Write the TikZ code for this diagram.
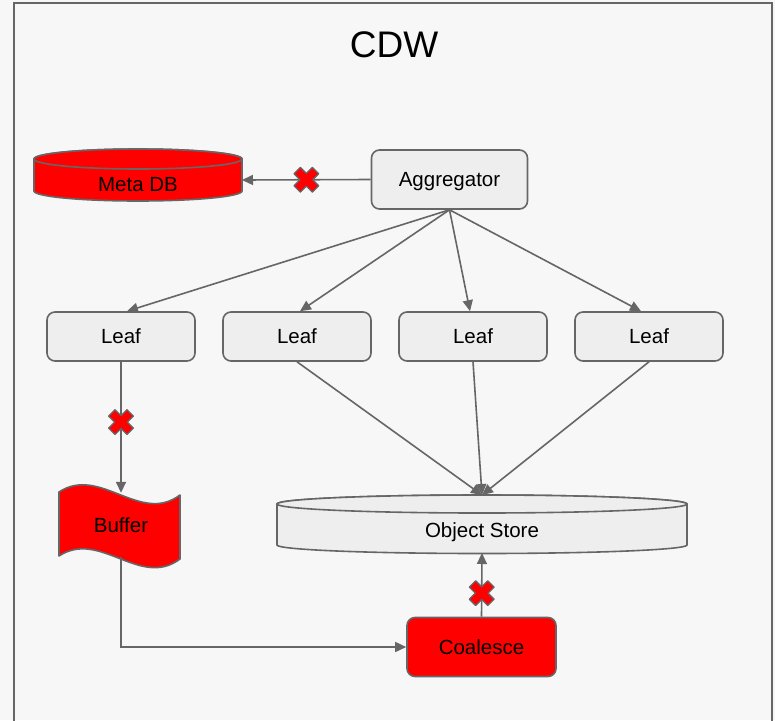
\documentclass[tikz,border=0pt]{standalone}
\usepackage{fontspec}
\setmainfont{Liberation Sans}
\usetikzlibrary{arrows.meta,calc}
\definecolor{bg}{HTML}{F7F7F7}
\definecolor{edge}{HTML}{666666}
\definecolor{boxfill}{HTML}{EEEEEE}
\definecolor{alarm}{HTML}{FF0000}
\begin{document}
\begin{tikzpicture}[x=1pt,y=-1pt,
  txt/.style={font=\fontsize{20.5}{23}\selectfont, text height=14.5pt, text depth=0pt, inner sep=0pt},
  box/.style={txt, draw=edge, line width=1.6pt, rounded corners=8pt, fill=boxfill},
  redbox/.style={box, fill=alarm},
  area/.style={inner sep=0pt, outer sep=0pt},
  conn/.style={draw=edge, line width=1.6pt, -{Triangle[length=11pt,width=10pt]}},
  shapeline/.style={draw=edge, line width=1.6pt},
  failmark/.pic={\filldraw[fill=alarm, draw=edge, line width=1.3pt, rotate=45, line join=round]
    (4.5,4.5) -- (13,4.5) -- (13,-4.5) -- (4.5,-4.5) -- (4.5,-13) -- (-4.5,-13) -- (-4.5,-4.5)
    -- (-13,-4.5) -- (-13,4.5) -- (-4.5,4.5) -- (-4.5,13) -- (4.5,13) -- cycle;}
]
% canvas and outer frame
\useasboundingbox (0,0) rectangle (775,720);
\fill[bg] (0,0) rectangle (775,720);
\begin{scope}
  \clip (0,0) rectangle (775,720);
  \draw[edge, line width=2pt] (14,3) rectangle (772,740);
\end{scope}

\node[font=\fontsize{37}{40}\selectfont, anchor=base, inner sep=0pt] (title) at (394,57) {CDW};

% Meta DB cylinder
\filldraw[fill=alarm, shapeline] (34,159) -- (34,191)
  arc[start angle=180, end angle=0, x radius=104, y radius=10] -- (242,159)
  arc[start angle=0, end angle=-180, x radius=104, y radius=10] -- cycle;
\filldraw[fill=alarm, shapeline] (138,159) ellipse[x radius=104, y radius=10];
\node[area, minimum width=208, minimum height=42] (metadb) at (138,180) {};
\node[txt] (metadblabel) at (138,184.5) {Meta DB};

% Object Store cylinder
\filldraw[fill=boxfill, shapeline] (277,504) -- (277,545)
  arc[start angle=180, end angle=0, x radius=205, y radius=8.5] -- (687,504)
  arc[start angle=0, end angle=-180, x radius=205, y radius=9] -- cycle;
\filldraw[fill=boxfill, shapeline] (482,504) ellipse[x radius=205, y radius=9];
\node[area, minimum width=410, minimum height=58] (objstore) at (482,524) {};
\node[txt] (objstorelabel) at (482,530) {Object Store};

% Buffer (wavy tape)
\filldraw[fill=alarm, shapeline, line join=round] (59,492) .. controls (100,465) and (140,525) .. (180,495)
  -- (180,559) .. controls (140,589) and (100,529) .. (59,556) -- cycle;
\node[txt, minimum width=118, minimum height=64] (buffer) at (121,525) {Buffer};

% boxes
\node[box, minimum width=156, minimum height=59] (agg) at (449.5,179.5) {Aggregator};
\node[box, minimum width=148, minimum height=49] (leaf1) at (121,336.5) {Leaf};
\node[box, minimum width=148, minimum height=49] (leaf2) at (297,336.5) {Leaf};
\node[box, minimum width=148, minimum height=49] (leaf3) at (473,336.5) {Leaf};
\node[box, minimum width=148, minimum height=49] (leaf4) at (649,336.5) {Leaf};
\node[redbox, minimum width=149, minimum height=59] (coal) at (481.5,647) {Coalesce};

% connectors
\draw[conn] (agg.west) -- (metadb.east);
\draw[conn] (agg.south) -- ($(leaf1.north)+(6,0)$);
\draw[conn] (agg.south) -- ($(leaf2.north)+(3,0)$);
\draw[conn] (agg.south) -- ($(leaf3.north)+(-3,0)$);
\draw[conn] (agg.south) -- ($(leaf4.north)+(-8,0)$);
\draw[conn] (leaf1.south) -- (buffer.north);
\draw[conn] (leaf2.south) -- (objstore.north);
\draw[conn] (leaf3.south) -- (objstore.north);
\draw[conn] (leaf4.south) -- (objstore.north);
\draw[conn] (buffer.south) |- (coal.west);
\draw[conn] (coal.north) -- (objstore.south);

% failure marks
\pic at ($(agg.west)!0.5!(metadb.east)$) {failmark};
\pic at ($(leaf1.south)!0.46!(buffer.north)$) {failmark};
\pic at ($(coal.north)!0.37!(objstore.south)$) {failmark};
\end{tikzpicture}
\end{document}
